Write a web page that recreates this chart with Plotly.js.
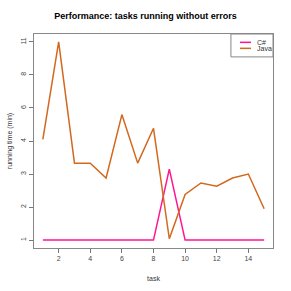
<!DOCTYPE html>
<html>
<head>
<meta charset="utf-8">
<script src="https://cdn.plot.ly/plotly-3.0.1.min.js"></script>
<style>html,body{margin:0;padding:0;background:#fff;}#chart{width:291px;height:291px;}</style>
</head>
<body>
<div id="chart"></div>
<script>
// Data (running time in minutes)
const tasks = [1,2,3,4,5,6,7,8,9,10,11,12,13,14,15];
const csharp = [1,1,1,1,1,1,1,1,3.15,1,1,1,1,1,1];
const java = [4.1,11,3.33,3.33,2.88,5.6,3.33,4.77,1.04,2.38,2.73,2.63,2.88,3.0,1.95];
const yTickLabels = [1,2,3,4,6,8,11];
const seriesNames = ['C#','Java'];
const seriesColors = ['#FF1493','#D2691E'];

// Map a value onto the chart's equally spaced tick scale (piecewise linear)
function toScale(v){
  for(let i=0;i<yTickLabels.length-1;i++){
    const a=yTickLabels[i], b=yTickLabels[i+1];
    if(v<=b || i===yTickLabels.length-2){
      return i+(v-a)/(b-a);
    }
  }
}
const yIdx = yTickLabels.map((_,i)=>i);

const font = {family:'Liberation Sans, Arial, sans-serif', color:'#333'};
const series = [csharp, java];
const traces = series.map((s,i)=>({x:tasks, y:s.map(toScale), name:seriesNames[i], mode:'lines', line:{color:seriesColors[i], width:1.5}}));

// Compact R-style legend box (paper coordinates)
const shapes = [{type:'rect', xref:'paper', yref:'paper', x0:0.824, x1:1, y0:0.893, y1:1, line:{color:'#888', width:1}, fillcolor:'#fff', layer:'above'}];
const annotations = [];
const legY = [0.961, 0.933];
seriesNames.forEach((n,i)=>{
  shapes.push({type:'line', xref:'paper', yref:'paper', x0:0.862, x1:0.908, y0:legY[i], y1:legY[i], line:{color:seriesColors[i], width:1.5}, layer:'above'});
  annotations.push({xref:'paper', yref:'paper', x:0.925, y:legY[i], xanchor:'left', yanchor:'middle', text:n, showarrow:false, font:{size:7, color:'#333'}});
});

const layout = {
  width:291, height:291,
  margin:{l:34, r:18, t:34, b:43},
  paper_bgcolor:'#fff', plot_bgcolor:'#fff',
  font:font,
  showlegend:false,
  shapes:shapes, annotations:annotations,
  title:{text:'<b>Performance: tasks running without errors</b>', x:0.5, xanchor:'center', y:0.945, yanchor:'middle', font:{family:font.family, size:9, color:'#000'}},
  xaxis:{range:[0.44,15.56], tickvals:[2,4,6,8,10,12,14], ticks:'outside', ticklen:4, tickcolor:'#777',
    showline:true, mirror:true, linecolor:'#888', linewidth:1, showgrid:false, zeroline:false,
    tickfont:{size:7, color:'#444'}, title:{text:'task', font:{size:7, color:'#333'}, standoff:14}},
  yaxis:{range:[-0.24,6.24], tickvals:yIdx, ticktext:yTickLabels.map(String), tickangle:-90, ticks:'outside', ticklen:4, tickcolor:'#777',
    showline:true, mirror:true, linecolor:'#888', linewidth:1, showgrid:false, zeroline:false,
    tickfont:{size:7, color:'#444'}, title:{text:'running time (min)', font:{size:7, color:'#333'}, standoff:6}}
};
Plotly.newPlot('chart', traces, layout, {displayModeBar:false, staticPlot:true});
</script>
</body>
</html>
